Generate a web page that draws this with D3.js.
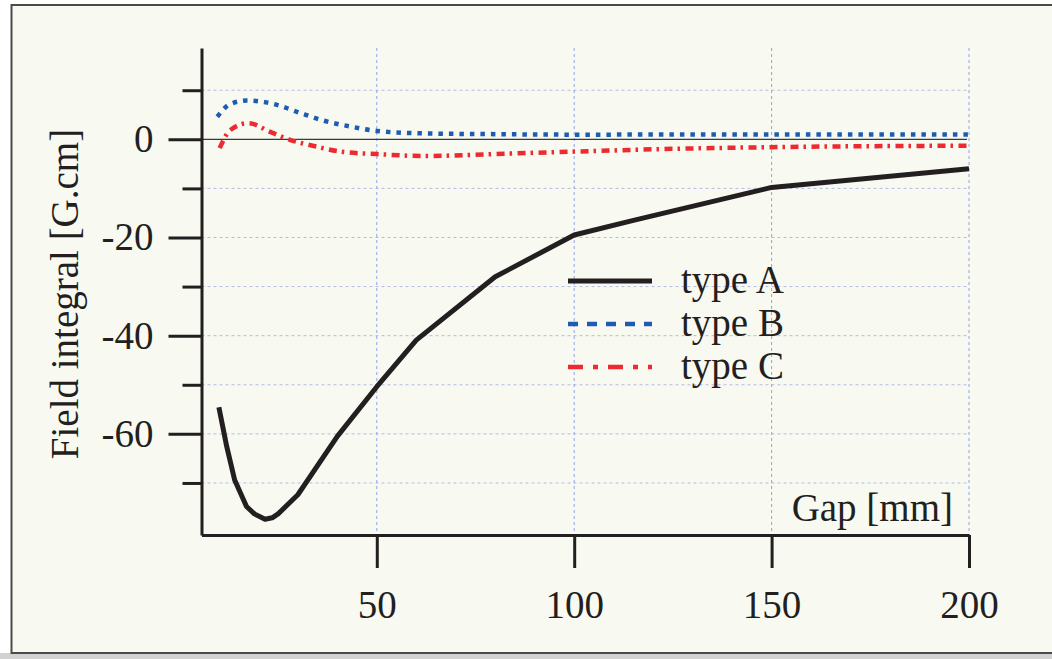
<!DOCTYPE html>
<html>
<head>
<meta charset="utf-8">
<script src="https://cdn.jsdelivr.net/npm/d3@7"></script>
<style>
    body { margin: 0; background: #ffffff; }
    text { font-family: "Liberation Serif", "Times New Roman", serif; fill: #231f20; }
</style>
</head>
<body>
<div id="chart"></div>
<script>
// type A (solid black)
var gapA = [10, 12, 14, 17, 19, 21.7, 23.5, 25, 30, 40, 50, 60, 80, 100, 115, 150, 200];
var valA = [-54.6, -62.6, -69.4, -74.8, -76.3, -77.4, -77.1, -76.3, -72.4, -60.5, -50.4, -40.9, -28, -19.5, -16.5, -9.8, -6];

// type B (blue dotted)
var gapB = [9.6, 12.9, 17.1, 23.9, 29.8, 36.5, 43.3, 50, 62, 80, 100, 150, 200];
var valB = [4.6, 7.2, 7.9, 7.2, 5.6, 3.8, 2.6, 1.7, 1.2, 1.05, 0.95, 1.0, 1.0];

// type C (red dash-dot)
var gapC = [10.2, 12.9, 17.5, 23, 28, 34.8, 40.7, 50, 62, 80, 100, 122, 150, 200];
var valC = [-1.8, 1.9, 3.3, 1.5, -0.1, -1.5, -2.5, -3.0, -3.4, -3.0, -2.5, -2.0, -1.6, -1.3];

var yMajor = [0, -20, -40, -60];
var yMinor = [10, -10, -30, -50, -70];
var yGrid = [10, -10, -20, -30, -40, -50, -60, -70];
var xTicks = [50, 100, 150, 200];

var seriesNames = ['type A', 'type B', 'type C'];

var chart = function (options) {
    var self = {};

    for (var key in options) {
        self[key] = options[key];
    }

    self.init = function () {
        self.svg = d3.select('#' + self.parent_id)
            .append('svg')
            .attr('width', self.width)
            .attr('height', self.height);

        // frame
        self.svg.append('rect')
            .attr('x', 0).attr('y', 653)
            .attr('width', self.width).attr('height', 6)
            .attr('fill', '#d2d2d2');
        self.svg.append('rect')
            .attr('x', 11.5).attr('y', 5)
            .attr('width', 1100).attr('height', 648)
            .attr('fill', '#f8f9f1')
            .attr('stroke', '#4a4a4a')
            .attr('stroke-width', 2);

        self.x = d3.scaleLinear().domain([5.6, 200]).range([201.5, 969]);
        self.y = d3.scaleLinear().domain([-80.6, 18.6]).range([535, 48]);
        self.g = self.svg.append('g');
    };

    self.render = function () {
        var x = self.x, y = self.y, g = self.g;

        // grid
        g.append('g').selectAll('line')
            .data(yGrid)
            .enter().append('line')
            .attr('x1', x(5.6)).attr('x2', x(200))
            .attr('y1', function (d) { return y(d); })
            .attr('y2', function (d) { return y(d); })
            .attr('stroke', '#b3bbe3')
            .attr('stroke-width', 1)
            .attr('stroke-dasharray', '3,3');

        g.append('g').selectAll('line')
            .data(xTicks)
            .enter().append('line')
            .attr('x1', function (d) { return x(d); })
            .attr('x2', function (d) { return x(d); })
            .attr('y1', y(18.6)).attr('y2', y(-80.6))
            .attr('stroke', '#94a2e0')
            .attr('stroke-width', 1)
            .attr('stroke-dasharray', '3,3');

        g.append('line')
            .attr('x1', x(5.6)).attr('x2', x(199.5))
            .attr('y1', y(0)).attr('y2', y(0))
            .attr('stroke', '#3a3a3a')
            .attr('stroke-width', 1.2);

        // curves
        var line = function (xs, curve) {
            return d3.line()
                .x(function (d, i) { return x(xs[i]); })
                .y(function (d) { return y(d); })
                .curve(curve);
        };

        g.append('path')
            .attr('d', line(gapA, d3.curveLinear)(valA))
            .attr('fill', 'none')
            .attr('stroke', '#231f20')
            .attr('stroke-width', 5)
            .attr('stroke-linejoin', 'round');

        g.append('path')
            .attr('d', line(gapB, d3.curveMonotoneX)(valB))
            .attr('fill', 'none')
            .attr('stroke', '#1c5db3')
            .attr('stroke-width', 4.5)
            .attr('stroke-dasharray', '4.5,6');

        g.append('path')
            .attr('d', line(gapC, d3.curveMonotoneX)(valC))
            .attr('fill', 'none')
            .attr('stroke', '#ed2a2f')
            .attr('stroke-width', 4.5)
            .attr('stroke-dasharray', '8,5,2.5,5.5');

        // axes
        var noLabel = function () { return ''; };

        var yMinorAxis = g.append('g')
            .attr('transform', 'translate(' + x(5.6) + ',0)')
            .call(d3.axisLeft(y).tickValues(yMinor).tickSize(19).tickSizeOuter(0).tickFormat(noLabel));
        yMinorAxis.select('.domain').remove();

        var yAxis = g.append('g')
            .attr('transform', 'translate(' + x(5.6) + ',0)')
            .call(d3.axisLeft(y).tickValues(yMajor).tickSize(33).tickSizeOuter(0).tickPadding(15)
                .tickFormat(function (d) { return d === 0 ? '0' : '-' + Math.abs(d); }));

        var xAxis = g.append('g')
            .attr('transform', 'translate(0,' + y(-80.6) + ')')
            .call(d3.axisBottom(x).tickValues(xTicks).tickSize(33).tickSizeOuter(0).tickPadding(22));

        [yMinorAxis, yAxis, xAxis].forEach(function (a) {
            a.selectAll('.domain, line')
                .attr('stroke', '#231f20')
                .attr('stroke-width', 3);
            a.selectAll('text')
                .attr('font-family', '"Liberation Serif", "Times New Roman", serif')
                .attr('font-size', 39)
                .attr('fill', '#231f20');
        });

        // titles
        g.append('text')
            .attr('transform', 'translate(78,' + 294 + ') rotate(-90)')
            .attr('text-anchor', 'middle')
            .attr('font-size', 39)
            .text('Field integral [G.cm]');

        g.append('text')
            .attr('x', 953).attr('y', 521)
            .attr('text-anchor', 'end')
            .attr('font-size', 39)
            .text('Gap [mm]');

        // legend
        var styles = [
            { color: '#231f20', dash: null },
            { color: '#1c5db3', dash: '10,9' },
            { color: '#ed2a2f', dash: '15,10,5,10' }
        ];
        var legend = g.append('g').selectAll('g')
            .data(seriesNames)
            .enter().append('g')
            .attr('transform', function (d, i) { return 'translate(0,' + (281 + i * 43) + ')'; });

        legend.append('line')
            .attr('x1', 568).attr('x2', 652)
            .attr('stroke', function (d, i) { return styles[i].color; })
            .attr('stroke-width', function (d, i) { return i === 0 ? 5 : 4.5; })
            .attr('stroke-dasharray', function (d, i) { return styles[i].dash; });

        legend.append('text')
            .attr('x', 681).attr('y', 12)
            .attr('font-size', 39)
            .text(function (d) { return d; });
    };

    self.init();
    return self;
};

var fieldChart = chart({
    parent_id: 'chart',
    width: 1052,
    height: 659
});
fieldChart.render();
</script>
</body>
</html>
